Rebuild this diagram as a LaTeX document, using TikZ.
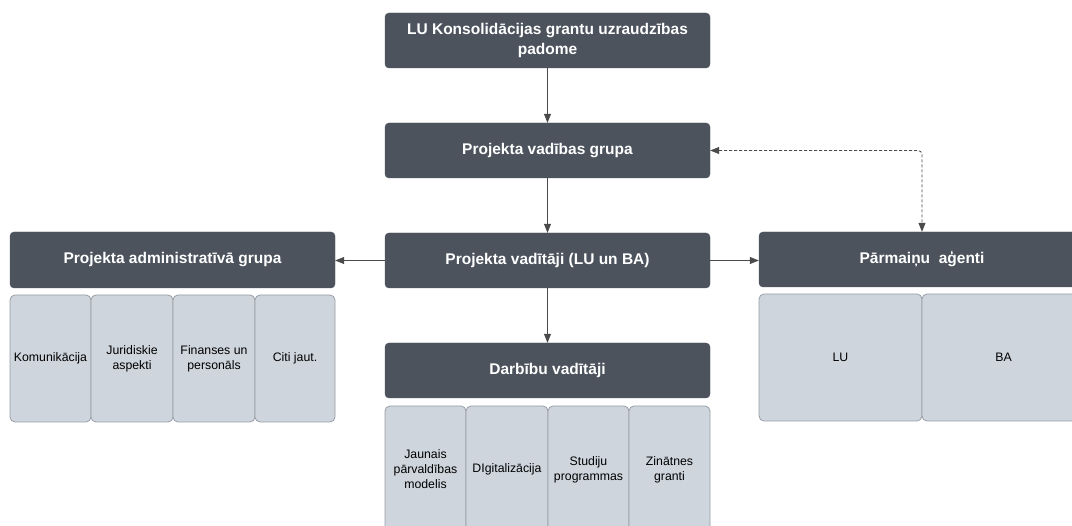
\documentclass[tikz,border=0pt]{standalone}
\usepackage{fontspec}
\setmainfont{Liberation Sans}
\usetikzlibrary{arrows.meta}
\definecolor{darkbox}{HTML}{4C535D}
\definecolor{lightbox}{HTML}{CFD5DD}
\definecolor{lightedge}{HTML}{989EA6}
\definecolor{linec}{HTML}{4A4A4A}
\tikzset{
  hdr/.style={rectangle, fill=darkbox, draw=darkbox, rounded corners=4pt, text=white,
    font=\fontsize{15.5}{20}\selectfont\bfseries, align=center, inner sep=0pt,
    minimum height=55pt},
  sub/.style={rectangle, fill=lightbox, draw=lightedge, line width=0.8pt, rounded corners=5pt,
    font=\fontsize{12.3}{15}\selectfont, align=center, inner sep=0pt,
    minimum height=127pt},
  conn/.style={draw=linec, line width=0.8pt, -{Triangle[length=9pt,width=7pt]}},
  dconn/.style={draw=linec, line width=0.8pt, dash pattern=on 3pt off 2pt,
    {Triangle[length=9pt,width=7pt]}-{Triangle[length=9pt,width=7pt]}, rounded corners=4pt}
}
\begin{document}
\begin{tikzpicture}[x=1pt,y=-1pt]
\useasboundingbox (0,0) rectangle (1072,526);
\clip (0,0) rectangle (1072,526);
\fill[white] (0,0) rectangle (1072,526);
% header boxes
\node[hdr, minimum width=325pt] (top) at (547.5,40.5) {LU Konsolidācijas grantu uzraudzības\\padome};
\node[hdr, minimum width=325pt] (pvg) at (547.5,150.5) {Projekta vadības grupa};
\node[hdr, minimum width=325pt] (pv) at (547.5,260.5) {Projekta vadītāji (LU un BA)};
\node[hdr, minimum width=325pt, minimum height=56pt] (adm) at (172.5,260) {Projekta administratīvā grupa};
\node[hdr, minimum width=326pt] (pa) at (922,259.5) {Pārmaiņu\ \ aģenti};
\node[hdr, minimum width=325pt] (dv) at (547.5,370.5) {Darbību vadītāji};
% admin sub boxes
\node[sub, minimum width=81pt] (k1) at (50.5,358.5) {Komunikācija};
\node[sub, minimum width=82pt] (k2) at (132,358.5) {Juridiskie\\aspekti};
\node[sub, minimum width=82pt] (k3) at (214,358.5) {Finanses un\\personāls};
\node[sub, minimum width=80pt] (k4) at (295,358.5) {Citi jaut.};
% darbibu sub boxes
\node[sub, minimum width=81pt] (d1) at (425.5,469.5) {Jaunais\\pārvaldības\\modelis};
\node[sub, minimum width=82pt] (d2) at (507,469.5) {DIgitalizācija};
\node[sub, minimum width=81pt] (d3) at (588.5,469.5) {Studiju\\programmas};
\node[sub, minimum width=81pt] (d4) at (669.5,469.5) {Zinātnes\\granti};
% parmainu sub boxes
\node[sub, minimum width=163pt] (lu) at (840.5,357.5) {LU};
\node[sub, minimum width=163pt] (ba) at (1003.5,357.5) {BA};
% connectors
\draw[conn] (top.south) -- (pvg.north);
\draw[conn] (pvg.south) -- (pv.north);
\draw[conn] (pv.south) -- (dv.north);
\draw[conn] (pv.west) -- (adm.east |- pv.west);
\draw[conn] (pv.east) -- (pa.west |- pv.east);
\draw[dconn] (pvg.east) -| (pa.north);
\end{tikzpicture}
\end{document}
